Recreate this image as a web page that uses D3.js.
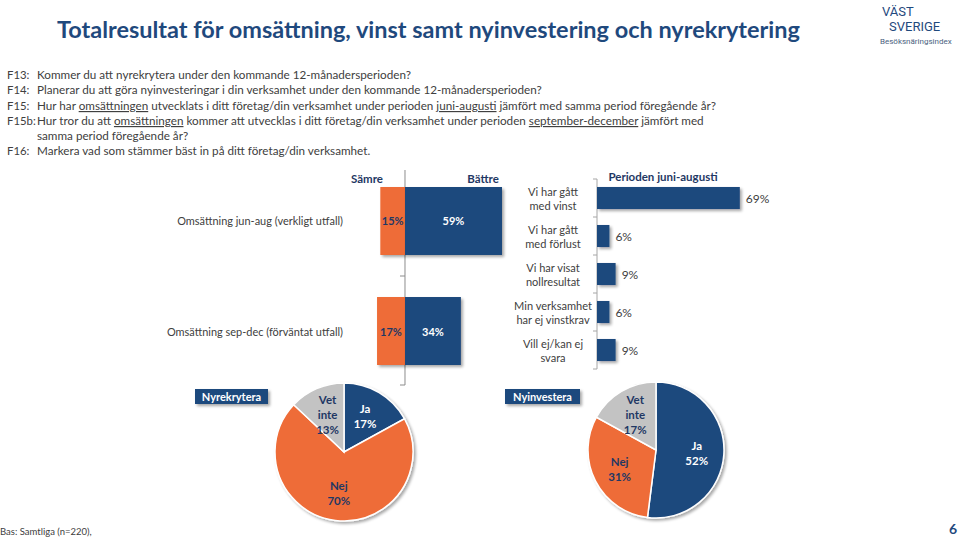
<!DOCTYPE html>
<html><head><meta charset="utf-8">
<script src="https://cdn.jsdelivr.net/npm/d3@7/dist/d3.min.js"></script>
<style>
html,body{margin:0;padding:0;background:#fff;}
svg{display:block;font-family:Lato,"Open Sans",sans-serif;}
</style></head>
<body>
<svg id="c" width="959" height="542"></svg>
<script>
// ---------- DATA ----------
const titleText = "Totalresultat för omsättning, vinst samt nyinvestering och nyrekrytering";
const questionLabels = ["F13:", "F14:", "F15:", "F15b:", "", "F16:"];
const questionTexts = [
  [["Kommer du att nyrekrytera under den kommande 12-månadersperioden?", false]],
  [["Planerar du att göra nyinvesteringar i din verksamhet under den kommande 12-månadersperioden?", false]],
  [["Hur har ", false], ["omsättningen", true], [" utvecklats i ditt företag/din verksamhet under perioden ", false], ["juni-augusti", true], [" jämfört med samma period föregående år?", false]],
  [["Hur tror du att ", false], ["omsättningen", true], [" kommer att utvecklas i ditt företag/din verksamhet under perioden ", false], ["september-december", true], [" jämfört med", false]],
  [["samma period föregående år?", false]],
  [["Markera vad som stämmer bäst in på ditt företag/din verksamhet.", false]]
];
const divCategories = ["Omsättning jun-aug (verkligt utfall)", "Omsättning sep-dec (förväntat utfall)"];
const worseValues = [15, 17];
const betterValues = [59, 34];
const divHeaders = ["Sämre", "Bättre"];

const profitTitle = "Perioden juni-augusti";
const profitCategories = ["Vi har gått|med vinst", "Vi har gått|med förlust", "Vi har visat|nollresultat", "Min verksamhet|har ej vinstkrav", "Vill ej/kan ej|svara"];
const profitValues = [69, 6, 9, 6, 9];

const pieCategories = ["Ja", "Nej", "Vet inte"];
const recruitTitle = "Nyrekrytera";
const recruitValues = [17, 70, 13];
const investTitle = "Nyinvestera";
const investValues = [52, 31, 17];

const footerText = "Bas:  Samtliga (n=220),";
const pageNumber = "6";

// ---------- STYLE ----------
const NAVY = "#1f497d", ORANGE = "#ee6c37", GRAY = "#c3c3c3", TXT = "#404040", DARK = "#1f3864";
const svg = d3.select("#c");

const defs = svg.append("defs");
const f = defs.append("filter").attr("id", "sh").attr("x", "-20%").attr("y", "-20%").attr("width", "150%").attr("height", "150%");
f.append("feGaussianBlur").attr("in", "SourceAlpha").attr("stdDeviation", 1.5).attr("result", "b");
f.append("feOffset").attr("in", "b").attr("dx", 2).attr("dy", 2).attr("result", "o");
f.append("feComponentTransfer").attr("in", "o").attr("result", "o2").append("feFuncA").attr("type", "linear").attr("slope", 0.35);
const fm = f.append("feMerge"); fm.append("feMergeNode").attr("in", "o2"); fm.append("feMergeNode").attr("in", "SourceGraphic");

function fit(sel, width) {
  const node = sel.node();
  const fs = parseFloat(sel.attr("font-size"));
  const w = node.getComputedTextLength();
  const nfs = fs * width / w;
  sel.attr("font-size", nfs);
  return nfs;
}

// ---------- TITLE ----------
const title = svg.append("text").attr("x", 57).attr("y", 38).attr("font-size", 22).attr("font-weight", 700)
  .attr("fill", NAVY).text(titleText);
fit(title, 743);

// logo
svg.append("text").attr("x", 882).attr("y", 16).attr("font-size", 13).attr("fill", NAVY).attr("font-family", "Roboto,sans-serif").text("VÄST");
svg.append("text").attr("x", 889).attr("y", 31).attr("font-size", 13).attr("fill", NAVY).attr("font-family", "Roboto,sans-serif").text("SVERIGE");
svg.append("text").attr("x", 880).attr("y", 44).attr("font-size", 8).attr("fill", "#4a5f80").attr("font-family", "Roboto,sans-serif").text("Besöksnäringsindex");

// ---------- QUESTIONS ----------
const qY = [74, 89, 105, 120, 135, 150];
let qSize = 13;
const qTexts = [];
questionTexts.forEach((parts, i) => {
  const t = svg.append("text").attr("x", 37).attr("y", qY[i]).attr("dominant-baseline", "central")
    .attr("font-size", 13).attr("fill", TXT);
  parts.forEach(p => t.append("tspan").attr("text-decoration", p[1] ? "underline" : null).text(p[0]));
  qTexts.push(t);
  svg.append("text").attr("x", 7).attr("y", qY[i]).attr("dominant-baseline", "central")
    .attr("font-size", 12).attr("fill", TXT).attr("class", "ql").text(questionLabels[i]);
});
qSize = fit(qTexts[2], 680);
qTexts.forEach(t => t.attr("font-size", qSize));
svg.selectAll(".ql").attr("font-size", qSize * 0.97);

// ---------- DIVERGING BARS ----------
const xd = d3.scaleLinear().domain([-20, 70]).range([372.1, 520.1]);
const yd = d3.scaleBand().domain(divCategories).range([176, 376]).paddingInner(0.382).paddingOuter(0.1);
const gd = svg.append("g");
gd.append("line").attr("x1", xd(0)).attr("x2", xd(0)).attr("y1", 170).attr("y2", 385).attr("stroke", "#8c8c8c").attr("stroke-width", 1);
[276, 385].forEach(y => gd.append("line").attr("x1", xd(0) - 5).attr("x2", xd(0)).attr("y1", y).attr("y2", y).attr("stroke", "#8c8c8c"));
const divLabels = [];
divCategories.forEach((c, i) => {
  const y = yd(c), h = yd.bandwidth();
  gd.append("rect").attr("x", xd(-worseValues[i])).attr("y", y).attr("width", xd(0) - xd(-worseValues[i])).attr("height", h)
    .attr("fill", ORANGE).attr("filter", "url(#sh)");
  gd.append("rect").attr("x", xd(0)).attr("y", y).attr("width", xd(betterValues[i]) - xd(0)).attr("height", h)
    .attr("fill", NAVY).attr("filter", "url(#sh)");
  gd.append("text").attr("x", (xd(-worseValues[i]) + xd(0)) / 2).attr("y", y + h / 2).attr("dominant-baseline", "central")
    .attr("text-anchor", "middle").attr("font-size", 11).attr("font-weight", 700).attr("fill", DARK).text(worseValues[i] + "%");
  gd.append("text").attr("x", (xd(betterValues[i]) + xd(0)) / 2).attr("y", y + h / 2).attr("dominant-baseline", "central")
    .attr("text-anchor", "middle").attr("font-size", 11).attr("font-weight", 700).attr("fill", "#fff").text(betterValues[i] + "%");
  divLabels.push(gd.append("text").attr("x", 343).attr("y", y + h / 2).attr("dominant-baseline", "central")
    .attr("text-anchor", "end").attr("font-size", 12.5).attr("fill", TXT).text(c));
});
const dSize = fit(divLabels[0], 166);
divLabels.forEach(t => t.attr("font-size", dSize));
gd.append("text").attr("x", 367).attr("y", 178).attr("dominant-baseline", "central").attr("text-anchor", "middle")
  .attr("font-size", 11.5).attr("font-weight", 700).attr("fill", DARK).text(divHeaders[0]);
gd.append("text").attr("x", 483).attr("y", 178).attr("dominant-baseline", "central").attr("text-anchor", "middle")
  .attr("font-size", 11.5).attr("font-weight", 700).attr("fill", DARK).text(divHeaders[1]);

// ---------- PROFIT BARS ----------
const xp = d3.scaleLinear().domain([0, 100]).range([597, 804]);
const yp = d3.scaleBand().domain(profitCategories).range([179, 369]).paddingInner(0.42).paddingOuter(0.21);
const gp = svg.append("g");
gp.append("line").attr("x1", xp(0)).attr("x2", xp(0)).attr("y1", 179).attr("y2", 369).attr("stroke", "#a6a6a6");
const bounds = [179].concat(profitCategories.map(c => yp(c) - yp.step() * yp.paddingInner() / 2 + yp.step()));
bounds.forEach(y => gp.append("line").attr("x1", xp(0) - 4).attr("x2", xp(0)).attr("y1", y).attr("y2", y).attr("stroke", "#a6a6a6"));
const pLabels = [];
profitCategories.forEach((c, i) => {
  const y = yp(c), h = yp.bandwidth();
  gp.append("rect").attr("x", xp(0)).attr("y", y).attr("width", xp(profitValues[i]) - xp(0)).attr("height", h)
    .attr("fill", NAVY).attr("filter", "url(#sh)");
  gp.append("text").attr("x", xp(profitValues[i]) + 6).attr("y", y + h / 2).attr("dominant-baseline", "central")
    .attr("font-size", 12).attr("fill", TXT).text(profitValues[i] + "%");
  const lines = c.split("|");
  lines.forEach((l, k) => pLabels.push(gp.append("text").attr("x", 553).attr("y", y + h / 2 + (k - 0.5) * 14).attr("dominant-baseline", "central")
    .attr("text-anchor", "middle").attr("font-size", 12).attr("fill", TXT).text(l)));
});
const pSize = fit(pLabels[6], 78);
pLabels.forEach(t => t.attr("font-size", pSize));
gp.append("text").attr("x", 663).attr("y", 176).attr("dominant-baseline", "central").attr("text-anchor", "middle")
  .attr("font-size", 11.5).attr("font-weight", 700).attr("fill", DARK).text(profitTitle);

// ---------- PIES ----------
const pieColors = d3.scaleOrdinal().domain(pieCategories).range([NAVY, ORANGE, GRAY]);
const labelColors = d3.scaleOrdinal().domain(pieCategories).range(["#fff", DARK, DARK]);
function drawPie(values, cx, cy, r, title, bx, bw) {
  const g = svg.append("g").attr("transform", `translate(${cx},${cy})`);
  const arcs = d3.pie().sort(null).value(d => d.v)(pieCategories.map((c, i) => ({ c, v: values[i] })));
  const arc = d3.arc().innerRadius(0).outerRadius(r);
  const lab = d3.arc().innerRadius(r * 0.6).outerRadius(r * 0.6);
  const gs = g.append("g").attr("filter", "url(#sh)");
  gs.selectAll("path").data(arcs).join("path").attr("d", arc).attr("fill", d => pieColors(d.data.c))
    .attr("stroke", "#fff").attr("stroke-width", 1.5);
  arcs.forEach(d => {
    const [lx, ly] = lab.centroid(d);
    const words = d.data.c.split(" ").concat([d.data.v + "%"]);
    words.forEach((w, k) => g.append("text").attr("x", lx).attr("y", ly + (k - (words.length - 1) / 2) * 15)
      .attr("dominant-baseline", "central").attr("text-anchor", "middle").attr("font-size", 11.5).attr("font-weight", 700)
      .attr("fill", labelColors(d.data.c)).text(w));
  });
  svg.append("rect").attr("x", bx).attr("y", 389).attr("width", bw).attr("height", 15).attr("fill", NAVY).attr("filter", "url(#sh)");
  svg.append("text").attr("x", bx + bw / 2).attr("y", 396.5).attr("dominant-baseline", "central").attr("text-anchor", "middle")
    .attr("font-size", 11).attr("font-weight", 700).attr("fill", "#fff").text(title);
}
drawPie(recruitValues, 344, 452, 69, recruitTitle, 195, 73);
drawPie(investValues, 656, 450, 68, investTitle, 505, 75);

// ---------- FOOTER ----------
svg.append("text").attr("x", 0).attr("y", 535).attr("font-size", 9.5).attr("fill", TXT).text(footerText);
svg.append("text").attr("x", 957).attr("y", 534).attr("text-anchor", "end").attr("font-size", 14).attr("font-weight", 700).attr("fill", NAVY).text(pageNumber);
</script>
</body></html>
